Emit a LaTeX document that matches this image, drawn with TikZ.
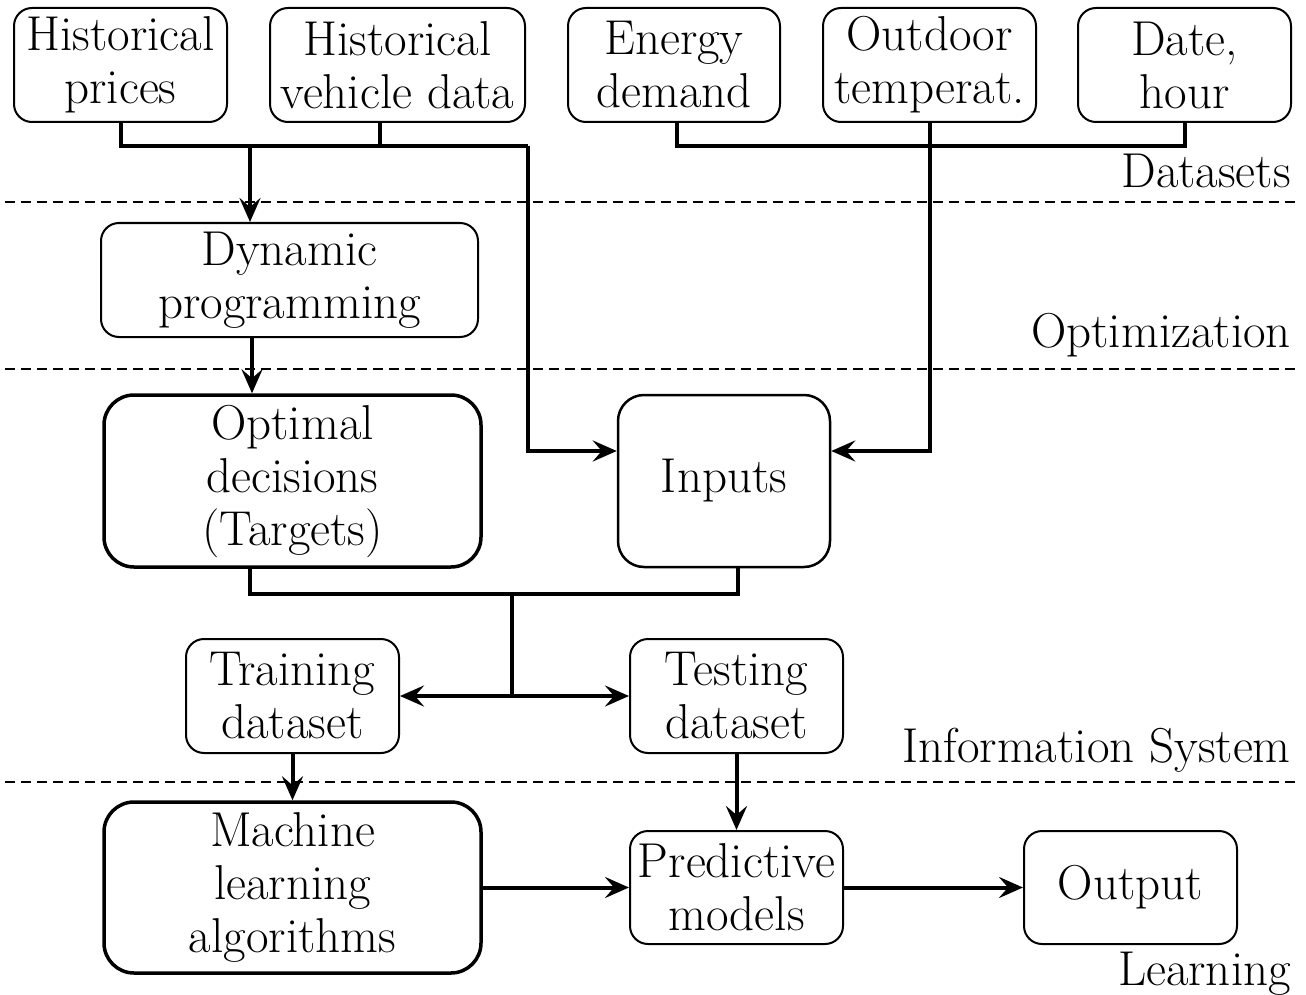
\documentclass[tikz,border=0pt]{standalone}
\usetikzlibrary{arrows.meta,calc}
\begin{document}
\begin{tikzpicture}[x=1pt,y=-1pt,
 box/.style={draw, line width=2pt, rounded corners=18pt, align=center, inner sep=0pt},
 bigbox/.style={draw, line width=3.5pt, rounded corners=30pt, align=center, inner sep=0pt},
 midbox/.style={draw, line width=2.5pt, rounded corners=26pt, align=center, inner sep=0pt},
 conn/.style={line width=4pt},
 arr/.style={conn, -{Stealth[length=24pt,width=21pt,inset=9pt]}},
 sep/.style={line width=1.4pt, dash pattern=on 10pt off 6pt},
 lab/.style={anchor=base east, inner sep=0pt},
 font=\fontsize{49}{53}\selectfont]

\useasboundingbox (0,0) rectangle (1306,995);

% top datasets
\node[box, minimum width=213pt, minimum height=114pt] (hp) at (120.5,65) {Historical\\prices};
\node[box, minimum width=255pt, minimum height=114pt] (hv) at (397.5,65) {Historical\\vehicle data};
\node[box, minimum width=212pt, minimum height=114pt] (ed) at (674,65) {Energy\\demand};
\node[box, minimum width=213pt, minimum height=114pt] (ot) at (929.5,65) {Outdoor\\temperat.};
\node[box, minimum width=213pt, minimum height=114pt] (dh) at (1184.5,65) {Date,\\hour};

\node[box, minimum width=377pt, minimum height=114pt] (dp) at (289.5,280) {Dynamic\\programming};

\node[bigbox, minimum width=377pt, minimum height=172pt] (od) at (292.5,481) {Optimal\\decisions\\(Targets)};
\node[midbox, minimum width=212pt, minimum height=172pt] (in) at (724,481) {Inputs};

\node[box, minimum width=213pt, minimum height=114pt] (tr) at (292.5,696) {Training\\dataset};
\node[box, minimum width=213pt, minimum height=114pt] (te) at (736.5,696) {Testing\\dataset};

\node[bigbox, minimum width=377pt, minimum height=171pt] (ml) at (292.5,887.5) {Machine\\learning\\algorithms};
\node[box, minimum width=213pt, minimum height=113pt] (pm) at (736.5,887.5) {Predictive\\models};
\node[box, minimum width=213pt, minimum height=113pt] (op) at (1130.5,887.5) {Output};

% layer labels
\node[lab] (l1) at (1291,188) {Datasets};
\node[lab] (l2) at (1291,347) {Optimization};
\node[lab] (l3) at (1291,762) {Information System};
\node[lab] (l4) at (1291,985) {Learning};

% separators
\coordinate (s1a) at (5,202); \coordinate (s1b) at (1300,202);
\coordinate (s2a) at (5,369); \coordinate (s2b) at (1300,369);
\coordinate (s3a) at (5,782); \coordinate (s3b) at (1300,782);
\draw[sep] (s1a) -- (s1b);
\draw[sep] (s2a) -- (s2b);
\draw[sep] (s3a) -- (s3b);

% left dataset connectors
\coordinate (a1) at (121,146);
\coordinate (a2) at (380,146);
\coordinate (a3) at (250,146);
\coordinate (a4) at (528,146);
\coordinate (a5) at (528,451);
\draw[conn] (hp.south -| a1) -- (a1) -- (a2) -- (a2 |- hv.south);
\draw[conn] (a3) -- (a4);
\draw[arr] (a3) -- (a3 |- dp.north);
\draw[arr] (a4) -- (a5) -- (a5 -| in.west);

% right dataset connectors
\coordinate (b1) at (677,146);
\coordinate (b2) at (1185,146);
\coordinate (b3) at (930,146);
\coordinate (b4) at (930,451);
\draw[conn] (ed.south -| b1) -- (b1) -- (b2) -- (b2 |- dh.south);
\draw[arr] (ot.south -| b3) -- (b4) -- (b4 -| in.east);

% DP -> optimal
\coordinate (c1) at (252,0);
\draw[arr] (dp.south -| c1) -- (c1 |- od.north);

% merge and split
\coordinate (d1) at (250,594);
\coordinate (d2) at (738,594);
\coordinate (d3) at (512,594);
\coordinate (d4) at (512,696);
\draw[conn] (d1 |- od.south) -- (d1) -- (d2) -- (d2 |- in.south);
\draw[conn] (d3) -- (d4);
\draw[arr] (d4) -- (d4 -| tr.east);
\draw[arr] (d4) -- (d4 -| te.west);

% learning
\draw[arr] (tr.south) -- (tr.south |- ml.north);
\draw[arr] (te.south) -- (te.south |- pm.north);
\draw[arr] (ml.east) -- (pm.west);
\draw[arr] (pm.east) -- (op.west);
\end{tikzpicture}
\end{document}
